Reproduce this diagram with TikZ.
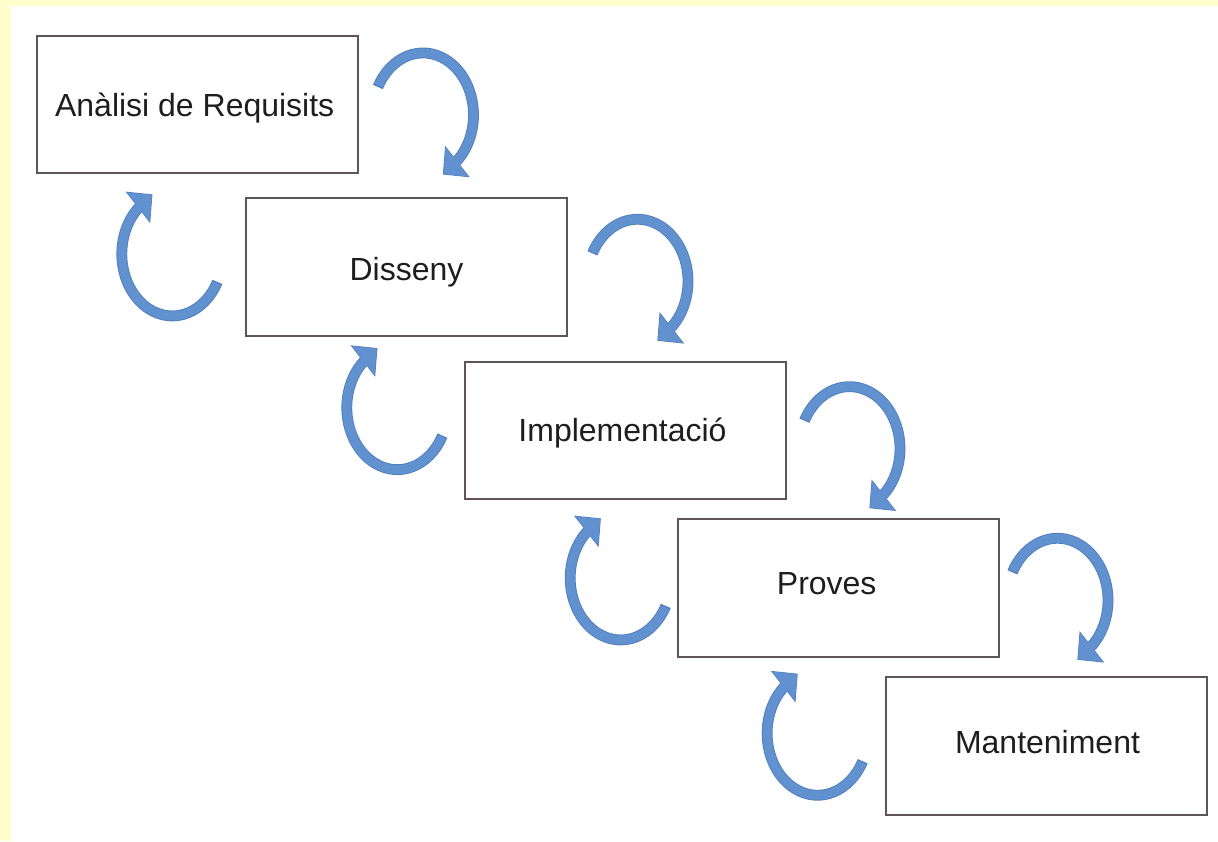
\documentclass[tikz,border=0pt]{standalone}
\usepackage{fontspec}
\setmainfont{Liberation Sans}
\usetikzlibrary{calc}
\definecolor{bgyellow}{RGB}{255,255,204}
\definecolor{boxline}{RGB}{95,85,88}
\definecolor{loopfill}{RGB}{98,145,207}
\definecolor{loopedge}{RGB}{80,126,190}
\definecolor{txt}{RGB}{30,30,30}
\tikzset{
  stagebox/.style={draw=boxline, line width=2pt, fill=white, minimum width=321pt, minimum height=137.5pt, inner sep=0pt},
  stagelbl/.style={text=txt, font=\fontsize{32pt}{38pt}\selectfont, inner sep=0pt, text height=22.9pt, text depth=0pt},
  loopout/.style={draw=loopedge, line width=10.8pt},
  loopin/.style={draw=loopfill, line width=9pt},
  headout/.style={fill=loopedge, draw=loopedge, line width=1.2pt, line join=miter},
  headin/.style={fill=loopfill},
  cwloop/.pic={
    \draw[loopout] (153.2:50.5pt and 62pt) arc[start angle=153.2, end angle=-50, x radius=50.5pt, y radius=62pt];
    \path[headout] (45.4pt,-61.6pt) -- (20.5pt,-59pt) -- (22.6pt,-32.4pt) -- cycle;
    \draw[loopin] (152:50.5pt and 62pt) arc[start angle=152, end angle=-50, x radius=50.5pt, y radius=62pt];
    \fill[headin] (45.4pt,-61.6pt) -- (20.5pt,-59pt) -- (22.6pt,-32.4pt) -- cycle;
  }
}
\begin{document}
\begin{tikzpicture}[x=1pt,y=1pt]
  \useasboundingbox (0,0) rectangle (1218,-841);
  \fill[bgyellow] (0,0) rectangle (1218,-841);
  \fill[white] (11,-6) rectangle (1218,-841);

  \node[stagebox] (b1) at (197.8,-104.7) {};
  \node[stagebox] (b2) at (406.7,-267) {};
  \node[stagebox] (b3) at (625,-430.7) {};
  \node[stagebox] (b4) at (838.3,-588) {};
  \node[stagebox] (b5) at (1046.3,-745.8) {};

  \node[stagelbl] (t1) at ($(b1.center)+(-3.1,-0.3)$) {Anàlisi de Requisits};
  \node[stagelbl] (t2) at ($(b2.center)+(-0.2,-2.5)$) {Disseny};
  \node[stagelbl] (t3) at ($(b3.center)+(-2.5,0.7)$) {Implementació};
  \node[stagelbl] (t4) at ($(b4.center)+(-11.6,4.7)$) {Proves};
  \node[stagelbl] (t5) at ($(b5.center)+(1.2,3.5)$) {Manteniment};

  \pic at ($(b1.north east)+(63.7,-80)$) {cwloop};
  \pic at ($(b2.north east)+(69.3,-84)$) {cwloop};
  \pic at ($(b3.north east)+(63,-87.7)$) {cwloop};
  \pic at ($(b4.north east)+(57.7,-82)$) {cwloop};

  \pic[rotate=180] at ($(b2.north west)+(-72.9,-56.7)$) {cwloop};
  \pic[rotate=180] at ($(b3.north west)+(-66.2,-46.7)$) {cwloop};
  \pic[rotate=180] at ($(b4.north west)+(-56.1,-59.7)$) {cwloop};
  \pic[rotate=180] at ($(b5.north west)+(-67.2,-57.2)$) {cwloop};
\end{tikzpicture}
\end{document}
